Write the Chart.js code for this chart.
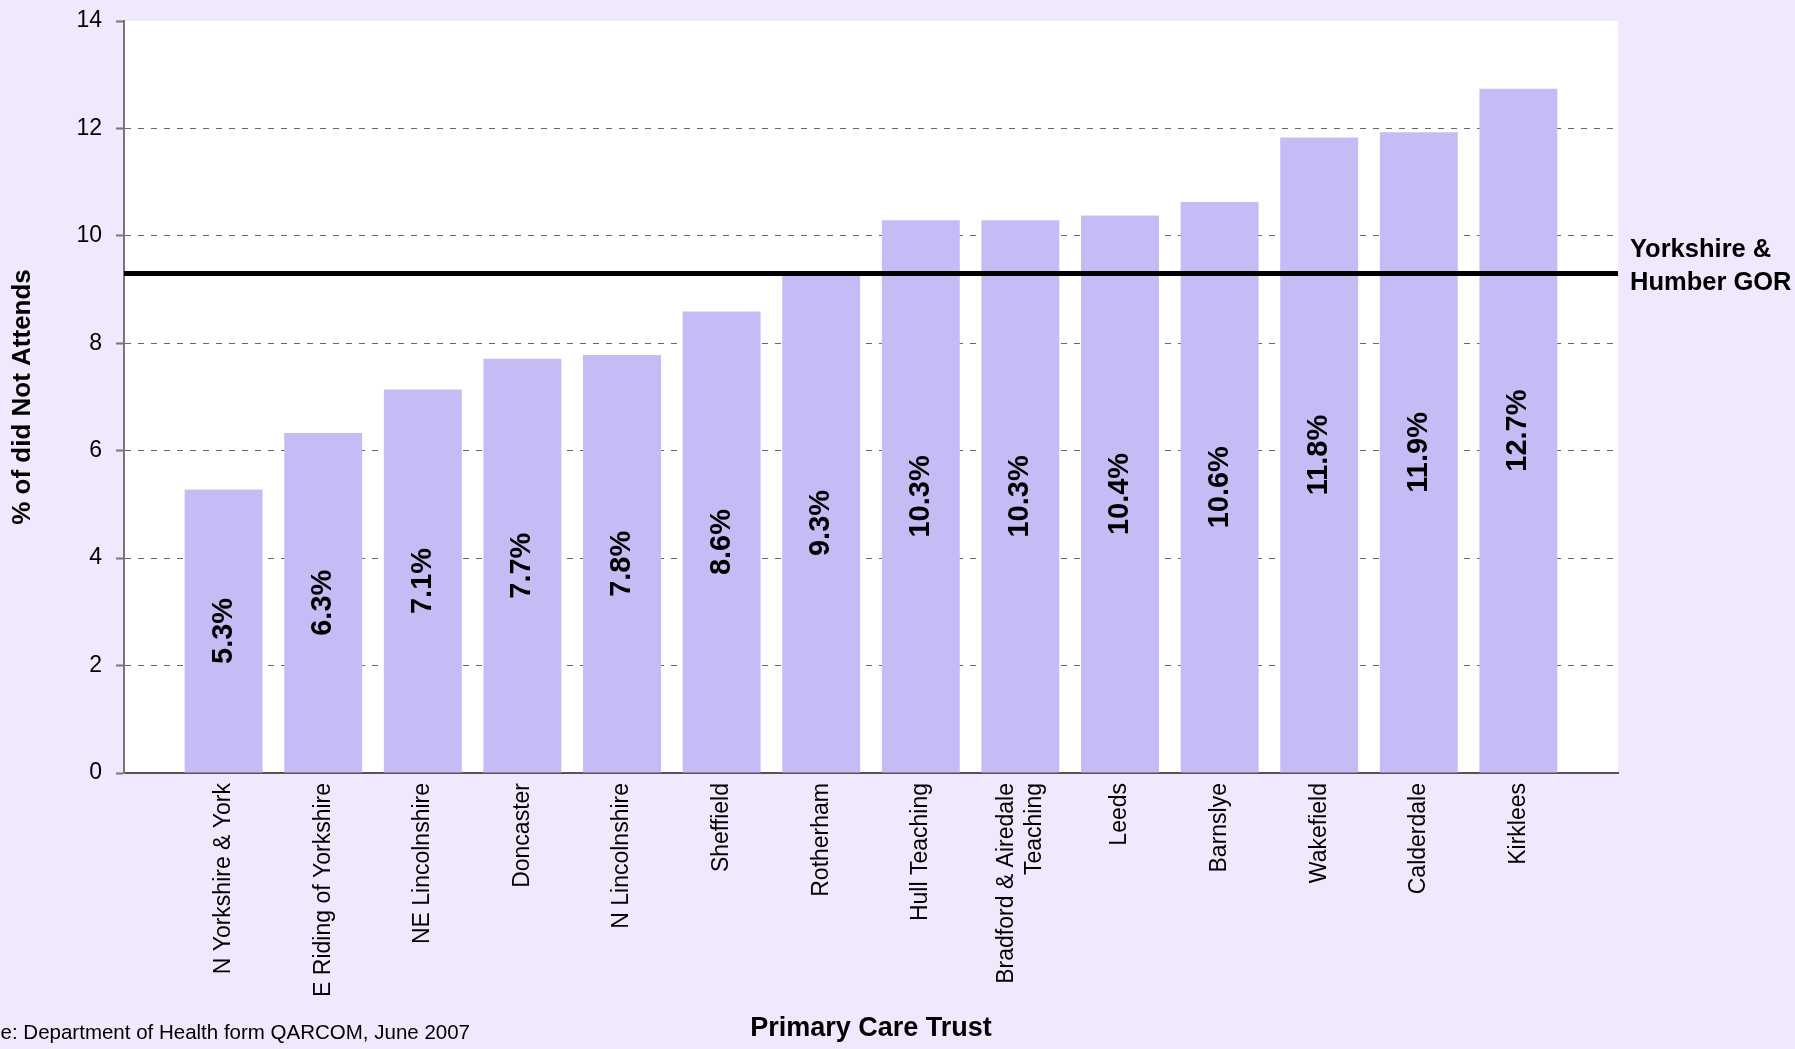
<!DOCTYPE html>
<html>
<head>
<meta charset="utf-8">
<script src="https://cdn.jsdelivr.net/npm/chart.js@4"></script>
<style>
  html, body { margin: 0; padding: 0; background: #F0E8FD; }
  canvas { display: block; }
</style>
</head>
<body>
<canvas id="c" width="1795" height="1049"></canvas>
<script>
// ---- data ----
const categories = [
  'N Yorkshire & York', 'E Riding of Yorkshire', 'NE Lincolnshire', 'Doncaster',
  'N Lincolnshire', 'Sheffield', 'Rotherham', 'Hull Teaching',
  ['Bradford & Airedale', 'Teaching'], 'Leeds', 'Barnslye', 'Wakefield',
  'Calderdale', 'Kirklees'
];
const dnaRates = [5.28, 6.33, 7.14, 7.71, 7.78, 8.59, 9.30, 10.29, 10.29, 10.38, 10.63, 11.83, 11.93, 12.74];
const gorRate = 9.3;
const gorLabel = ['Yorkshire &', 'Humber GOR'];
const yAxisTitle = '% of did Not Attends';
const xAxisTitle = 'Primary Care Trust';
const sourceNote = 'Source: Department of Health form QARCOM, June 2007';

const FONT = '"Liberation Sans", Arial, sans-serif';
const X_TICK_SIZE = 23;

const barPoints = dnaRates.map((v, i) => ({ x: i + 1, y: v }));
const linePoints = [{ x: 0, y: gorRate }, { x: categories.length + 1, y: gorRate }];

const decorPlugin = {
  id: 'decor',
  afterDatasetsUpdate(chart) {
    // centre multi-line rotated category labels on their bar (after bar widths are computed)
    const scale = chart.scales.x;
    const pxPerUnit = (scale.right - scale.left) / (scale.max - scale.min);
    const lh = X_TICK_SIZE * 1.2;
    scale.ticks.forEach(t => {
      if (Array.isArray(t.label) && !t._shifted) {
        t.value = t.value - (t.label.length - 1) * lh / 2 / pxPerUnit;
        t._shifted = true;
      }
    });
    scale._labelItems = null;
  },
  beforeDraw(chart) {
    const { ctx, chartArea: a } = chart;
    ctx.save();
    ctx.fillStyle = '#F0E8FD';
    ctx.fillRect(0, 0, chart.width, chart.height);
    ctx.fillStyle = '#FFFFFF';
    ctx.fillRect(a.left, a.top, a.right - a.left, a.bottom - a.top);
    ctx.restore();
  },
  afterDatasetsDraw(chart) {
    const { ctx, chartArea: a, scales } = chart;
    const meta = chart.getDatasetMeta(1);
    ctx.save();
    ctx.fillStyle = '#000';
    ctx.font = 'bold 29px ' + FONT;
    ctx.textAlign = 'center';
    ctx.textBaseline = 'middle';
    meta.data.forEach((bar, i) => {
      const p = bar.getProps(['x', 'y', 'base'], true);
      ctx.save();
      ctx.translate(p.x, (p.y + p.base) / 2);
      ctx.rotate(-Math.PI / 2);
      ctx.fillText(dnaRates[i].toFixed(1) + '%', 0, 0);
      ctx.restore();
    });
    // GOR label
    const yPix = scales.y.getPixelForValue(gorRate);
    ctx.font = 'bold 25.5px ' + FONT;
    ctx.textAlign = 'left';
    ctx.fillText(gorLabel[0], a.right + 12, yPix - 23);
    ctx.fillText(gorLabel[1], a.right + 12, yPix + 10);
    // source note
    ctx.font = '20.5px ' + FONT;
    ctx.textAlign = 'right';
    ctx.textBaseline = 'alphabetic';
    ctx.fillText(sourceNote, 470, 1039);
    ctx.restore();
  }
};

new Chart(document.getElementById('c'), {
  type: 'bar',
  data: {
    datasets: [
      {
        type: 'line',
        label: 'Yorkshire & Humber GOR',
        data: linePoints,
        borderColor: '#000',
        borderWidth: 5,
        pointRadius: 0,
        fill: false,
        order: 0
      },
      {
        type: 'bar',
        label: 'DNA rate',
        data: barPoints,
        backgroundColor: '#C6BCF5',
        borderWidth: 0,
        barPercentage: 0.783,
        categoryPercentage: 1,
        order: 1
      }
    ]
  },
  plugins: [decorPlugin],
  options: {
    responsive: false,
    animation: false,
    layout: { padding: { left: 0, top: 21, right: 177, bottom: 0 } },
    plugins: { legend: { display: false }, tooltip: { enabled: false } },
    scales: {
      x: {
        type: 'linear',
        offset: false,
        min: 0,
        max: categories.length + 1,
        afterFit(scale) { scale.height = 276; },
        grid: { display: false, drawTicks: false },
        border: { display: true, color: '#555', width: 2 },
        ticks: {
          stepSize: 1,
          autoSkip: false,
          minRotation: 90,
          maxRotation: 90,
          padding: 10,
          color: '#000',
          font: { family: FONT, size: X_TICK_SIZE },
          callback(v) {
            const i = Math.round(v) - 1;
            return (i >= 0 && i < categories.length) ? categories[i] : null;
          }
        },
        title: {
          display: true,
          text: xAxisTitle,
          color: '#000',
          font: { family: FONT, size: 27, weight: 'bold' },
          padding: { top: 0, bottom: 4 }
        }
      },
      y: {
        min: 0,
        max: 14,
        afterFit(scale) { scale.width = 124; },
        grid: {
          color(ctx) { const v = ctx.tick && ctx.tick.value; return (v === 0 || v === 14) ? 'rgba(0,0,0,0)' : '#666'; },
          lineWidth: 1,
          tickLength: 8,
          tickColor: '#777',
          tickWidth: 2
        },
        border: { display: true, color: '#777', width: 2, dash: [6, 7] },
        ticks: {
          stepSize: 2,
          padding: 14,
          color: '#000',
          font: { family: FONT, size: 23, lineHeight: 0.4 }
        },
        title: {
          display: true,
          text: yAxisTitle,
          color: '#000',
          font: { family: FONT, size: 26, weight: 'bold' },
          padding: { top: 7, bottom: 0 }
        }
      }
    }
  }
});
</script>
</body>
</html>
